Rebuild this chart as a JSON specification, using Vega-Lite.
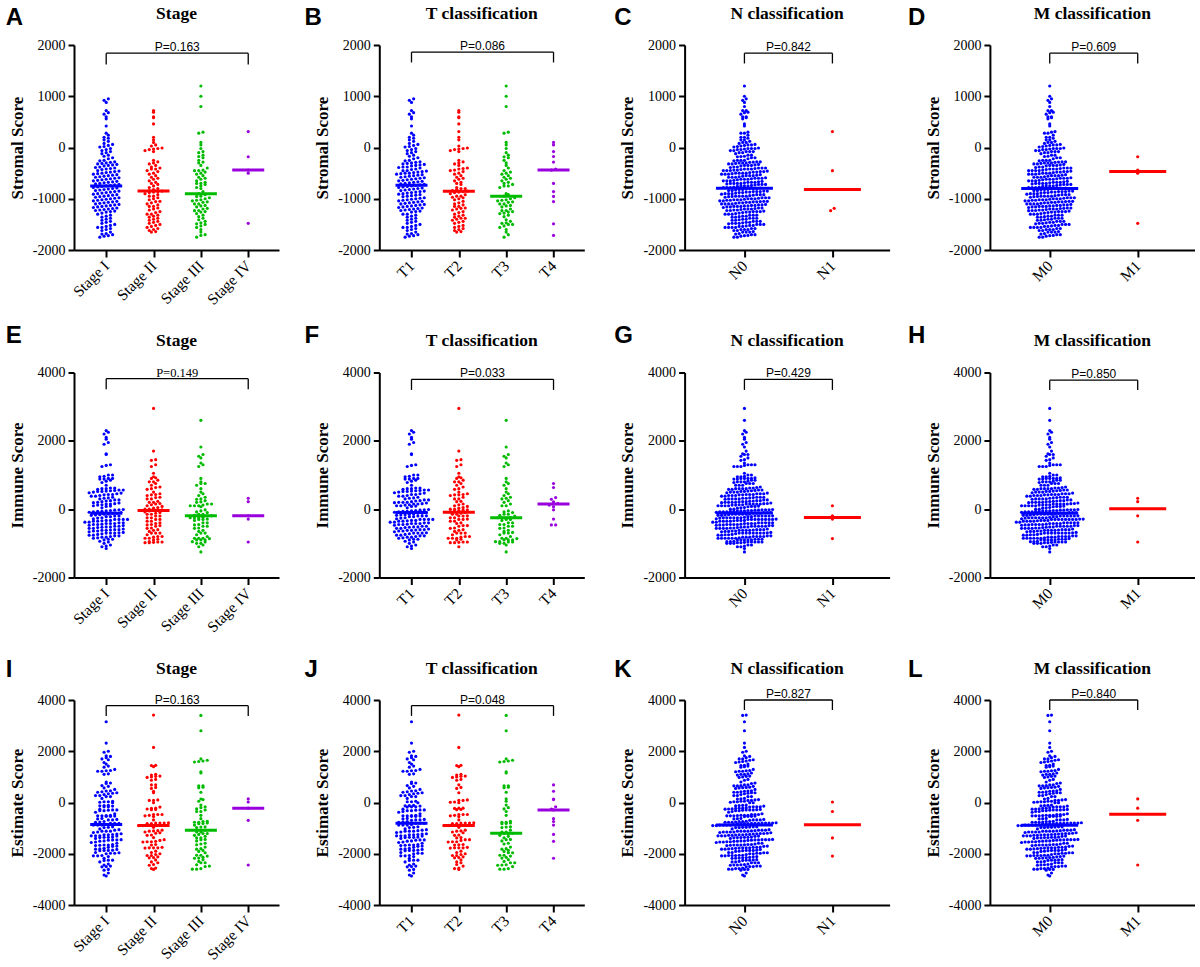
{
"$schema":"https://vega.github.io/schema/vega-lite/v6.json",
"background":"white",
"padding":{"left":5,"top":5,"right":0,"bottom":0},
"config":{
 "view":{"stroke":null},
 "axis":{"grid":false,"domainColor":"black","domainWidth":2,"tickColor":"black","tickWidth":2,"labelFont":"Liberation Serif","labelFontSize":14,"labelColor":"black","titleFont":"Liberation Serif","titleFontSize":17,"titleFontWeight":"bold","titleColor":"black","labelFlush":false,"labelOverlap":false,"labelBound":false},
 "axisX":{"labelAngle":-45,"labelAlign":"right","labelBaseline":"middle","tickSize":7,"labelPadding":6,"labelFont":"Liberation Serif","labelFontSize":15.5,"title":null},
 "axisY":{"tickSize":6,"labelPadding":3,"titlePadding":6,"labelFont":"Liberation Serif","labelFontSize":14,"labelExpr":"'' + datum.value"}
},
"data":{"values":[
{"st":1,"t":1,"n":0,"m":0,"s":950,"i":2200,"e":3150},
{"st":1,"t":1,"n":0,"m":0,"s":920,"i":900,"e":1820},
{"st":1,"t":1,"n":0,"m":0,"s":880,"i":820,"e":1700},
{"st":1,"t":1,"n":0,"m":0,"s":720,"i":950,"e":1670},
{"st":1,"t":1,"n":0,"m":0,"s":680,"i":880,"e":1560},
{"st":1,"t":1,"n":0,"m":0,"s":650,"i":600,"e":1250},
{"st":1,"t":1,"n":0,"m":0,"s":600,"i":780,"e":1380},
{"st":1,"t":1,"n":0,"m":0,"s":560,"i":540,"e":1100},
{"st":1,"t":1,"n":0,"m":0,"s":420,"i":700,"e":1120},
{"st":1,"t":1,"n":0,"m":0,"s":280,"i":520,"e":800},
{"st":1,"t":1,"n":0,"m":0,"s":240,"i":1000,"e":1240},
{"st":1,"t":1,"n":0,"m":0,"s":200,"i":430,"e":630},
{"st":1,"t":1,"n":0,"m":0,"s":180,"i":560,"e":740},
{"st":1,"t":1,"n":0,"m":0,"s":150,"i":250,"e":400},
{"st":1,"t":1,"n":0,"m":0,"s":120,"i":1300,"e":1420},
{"st":1,"t":1,"n":0,"m":0,"s":80,"i":380,"e":460},
{"st":1,"t":1,"n":0,"m":0,"s":60,"i":300,"e":360},
{"st":1,"t":1,"n":0,"m":0,"s":40,"i":620,"e":660},
{"st":1,"t":1,"n":0,"m":0,"s":20,"i":2300,"e":2320},
{"st":1,"t":1,"n":0,"m":0,"s":10,"i":150,"e":160},
{"st":1,"t":1,"n":0,"m":0,"s":-20,"i":470,"e":450},
{"st":1,"t":1,"n":0,"m":0,"s":-40,"i":90,"e":50},
{"st":1,"t":1,"n":0,"m":0,"s":-60,"i":1280,"e":1220},
{"st":1,"t":1,"n":0,"m":0,"s":-80,"i":350,"e":270},
{"st":1,"t":1,"n":0,"m":0,"s":-100,"i":2100,"e":2000},
{"st":1,"t":1,"n":0,"m":0,"s":-120,"i":-50,"e":-170},
{"st":1,"t":1,"n":0,"m":0,"s":-150,"i":530,"e":380},
{"st":1,"t":1,"n":0,"m":0,"s":-170,"i":160,"e":-10},
{"st":1,"t":1,"n":0,"m":0,"s":-200,"i":1950,"e":1750},
{"st":1,"t":1,"n":0,"m":0,"s":-220,"i":450,"e":230},
{"st":1,"t":1,"n":0,"m":0,"s":-250,"i":2050,"e":1800},
{"st":1,"t":1,"n":0,"m":0,"s":-260,"i":-120,"e":-380},
{"st":1,"t":1,"n":0,"m":0,"s":-280,"i":620,"e":340},
{"st":1,"t":1,"n":0,"m":0,"s":-290,"i":2250,"e":1960},
{"st":1,"t":1,"n":0,"m":0,"s":-300,"i":40,"e":-260},
{"st":1,"t":1,"n":0,"m":0,"s":-310,"i":880,"e":570},
{"st":1,"t":1,"n":0,"m":0,"s":-320,"i":-300,"e":-620},
{"st":1,"t":1,"n":0,"m":0,"s":-330,"i":1620,"e":1290},
{"st":1,"t":1,"n":0,"m":0,"s":-340,"i":220,"e":-120},
{"st":1,"t":1,"n":0,"m":0,"s":-350,"i":580,"e":230},
{"st":1,"t":1,"n":0,"m":0,"s":-360,"i":-180,"e":-540},
{"st":1,"t":1,"n":0,"m":0,"s":-380,"i":1600,"e":1220},
{"st":1,"t":1,"n":0,"m":0,"s":-390,"i":100,"e":-290},
{"st":1,"t":1,"n":0,"m":0,"s":-400,"i":1900,"e":1500},
{"st":1,"t":2,"n":0,"m":0,"s":-410,"i":420,"e":10},
{"st":1,"t":1,"n":0,"m":0,"s":-420,"i":-260,"e":-680},
{"st":1,"t":1,"n":0,"m":0,"s":-430,"i":320,"e":-110},
{"st":1,"t":1,"n":0,"m":0,"s":-450,"i":960,"e":510},
{"st":1,"t":1,"n":0,"m":0,"s":-460,"i":-80,"e":-540},
{"st":1,"t":1,"n":0,"m":0,"s":-470,"i":500,"e":30},
{"st":1,"t":1,"n":0,"m":0,"s":-480,"i":-400,"e":-880},
{"st":1,"t":1,"n":0,"m":0,"s":-490,"i":1250,"e":760},
{"st":1,"t":1,"n":0,"m":0,"s":-500,"i":180,"e":-320},
{"st":1,"t":1,"n":0,"m":0,"s":-510,"i":-20,"e":-530},
{"st":1,"t":1,"n":0,"m":0,"s":-520,"i":550,"e":30},
{"st":1,"t":1,"n":0,"m":0,"s":-530,"i":-350,"e":-880},
{"st":1,"t":1,"n":0,"m":0,"s":-540,"i":850,"e":310},
{"st":1,"t":1,"n":0,"m":0,"s":-550,"i":-420,"e":-970},
{"st":1,"t":1,"n":0,"m":0,"s":-560,"i":-500,"e":-1060},
{"st":1,"t":1,"n":0,"m":0,"s":-570,"i":270,"e":-300},
{"st":1,"t":1,"n":0,"m":0,"s":-580,"i":1000,"e":420},
{"st":1,"t":1,"n":0,"m":0,"s":-590,"i":-150,"e":-740},
{"st":1,"t":1,"n":0,"m":0,"s":-600,"i":430,"e":-170},
{"st":1,"t":1,"n":0,"m":0,"s":-610,"i":-620,"e":-1230},
{"st":1,"t":1,"n":0,"m":0,"s":-620,"i":120,"e":-500},
{"st":1,"t":1,"n":0,"m":0,"s":-630,"i":900,"e":270},
{"st":1,"t":1,"n":0,"m":0,"s":-640,"i":-220,"e":-860},
{"st":1,"t":1,"n":0,"m":0,"s":-650,"i":-610,"e":-1260},
{"st":1,"t":1,"n":0,"m":0,"s":-660,"i":-700,"e":-1360},
{"st":1,"t":1,"n":0,"m":0,"s":-670,"i":380,"e":-290},
{"st":1,"t":1,"n":0,"m":0,"s":-680,"i":-90,"e":-770},
{"st":1,"t":1,"n":0,"m":0,"s":-690,"i":560,"e":-130},
{"st":1,"t":1,"n":0,"m":0,"s":-700,"i":-330,"e":-1030},
{"st":1,"t":1,"n":0,"m":0,"s":-710,"i":200,"e":-510},
{"st":1,"t":1,"n":0,"m":0,"s":-720,"i":-450,"e":-1170},
{"st":1,"t":1,"n":0,"m":0,"s":-730,"i":-30,"e":-760},
{"st":1,"t":1,"n":0,"m":0,"s":-740,"i":600,"e":-140},
{"st":1,"t":1,"n":0,"m":0,"s":-750,"i":-60,"e":-810},
{"st":1,"t":1,"n":0,"m":0,"s":-760,"i":240,"e":-520},
{"st":1,"t":1,"n":0,"m":0,"s":-770,"i":-380,"e":-1150},
{"st":1,"t":1,"n":0,"m":0,"s":-780,"i":-470,"e":-1250},
{"st":1,"t":1,"n":0,"m":0,"s":-790,"i":-560,"e":-1350},
{"st":1,"t":1,"n":0,"m":0,"s":-800,"i":480,"e":-320},
{"st":1,"t":1,"n":0,"m":0,"s":-810,"i":-140,"e":-950},
{"st":1,"t":1,"n":0,"m":0,"s":-820,"i":-720,"e":-1540},
{"st":1,"t":1,"n":0,"m":0,"s":-830,"i":150,"e":-680},
{"st":1,"t":1,"n":0,"m":0,"s":-840,"i":-280,"e":-1120},
{"st":1,"t":1,"n":0,"m":0,"s":-850,"i":330,"e":-520},
{"st":1,"t":1,"n":0,"m":0,"s":-860,"i":-600,"e":-1460},
{"st":1,"t":1,"n":0,"m":0,"s":-870,"i":-10,"e":-880},
{"st":1,"t":1,"n":0,"m":0,"s":-880,"i":-420,"e":-1300},
{"st":1,"t":1,"n":0,"m":0,"s":-890,"i":80,"e":-810},
{"st":1,"t":1,"n":0,"m":0,"s":-900,"i":-800,"e":-1700},
{"st":1,"t":1,"n":0,"m":0,"s":-910,"i":270,"e":-640},
{"st":1,"t":1,"n":0,"m":0,"s":-920,"i":-200,"e":-1120},
{"st":1,"t":1,"n":0,"m":0,"s":-930,"i":-660,"e":-1590},
{"st":1,"t":1,"n":0,"m":0,"s":-940,"i":-530,"e":-1470},
{"st":1,"t":1,"n":0,"m":0,"s":-950,"i":-350,"e":-1300},
{"st":1,"t":1,"n":0,"m":0,"s":-960,"i":520,"e":-440},
{"st":1,"t":2,"n":0,"m":0,"s":-970,"i":-480,"e":-1450},
{"st":1,"t":1,"n":0,"m":0,"s":-980,"i":-100,"e":-1080},
{"st":1,"t":1,"n":0,"m":0,"s":-990,"i":-760,"e":-1750},
{"st":1,"t":1,"n":0,"m":0,"s":-1000,"i":190,"e":-810},
{"st":1,"t":1,"n":0,"m":0,"s":-1010,"i":-300,"e":-1310},
{"st":1,"t":1,"n":0,"m":0,"s":-1020,"i":-540,"e":-1560},
{"st":1,"t":1,"n":0,"m":0,"s":-1030,"i":-330,"e":-1360},
{"st":1,"t":1,"n":0,"m":0,"s":-1040,"i":-840,"e":-1880},
{"st":1,"t":1,"n":0,"m":0,"s":-1050,"i":-170,"e":-1220},
{"st":1,"t":1,"n":0,"m":0,"s":-1060,"i":400,"e":-660},
{"st":1,"t":1,"n":0,"m":0,"s":-1070,"i":-640,"e":-1710},
{"st":1,"t":1,"n":0,"m":0,"s":-1080,"i":-40,"e":-1120},
{"st":1,"t":1,"n":0,"m":0,"s":-1090,"i":-420,"e":-1510},
{"st":1,"t":1,"n":0,"m":0,"s":-1100,"i":-880,"e":-1980},
{"st":1,"t":1,"n":0,"m":0,"s":-1110,"i":130,"e":-980},
{"st":1,"t":1,"n":0,"m":0,"s":-1120,"i":-250,"e":-1370},
{"st":1,"t":1,"n":0,"m":0,"s":-1130,"i":-700,"e":-1830},
{"st":1,"t":1,"n":0,"m":0,"s":-1140,"i":-120,"e":-1260},
{"st":1,"t":1,"n":0,"m":0,"s":-1150,"i":-520,"e":-1670},
{"st":1,"t":1,"n":0,"m":0,"s":-1160,"i":-340,"e":-1500},
{"st":1,"t":1,"n":0,"m":0,"s":-1170,"i":-780,"e":-1950},
{"st":1,"t":1,"n":0,"m":0,"s":-1180,"i":-690,"e":-1870},
{"st":1,"t":1,"n":0,"m":0,"s":-1190,"i":-600,"e":-1790},
{"st":1,"t":1,"n":0,"m":0,"s":-1200,"i":-200,"e":-1400},
{"st":1,"t":1,"n":0,"m":0,"s":-1210,"i":-900,"e":-2110},
{"st":1,"t":1,"n":0,"m":0,"s":-1220,"i":-440,"e":-1660},
{"st":1,"t":1,"n":0,"m":0,"s":-1230,"i":-580,"e":-1810},
{"st":1,"t":1,"n":0,"m":0,"s":-1240,"i":-60,"e":-1300},
{"st":1,"t":1,"n":0,"m":0,"s":-1250,"i":-820,"e":-2070},
{"st":1,"t":1,"n":0,"m":0,"s":-1260,"i":-380,"e":-1640},
{"st":1,"t":3,"n":0,"m":0,"s":-1280,"i":-680,"e":-1960},
{"st":1,"t":1,"n":0,"m":0,"s":-1300,"i":-160,"e":-1460},
{"st":1,"t":1,"n":0,"m":0,"s":-1320,"i":-500,"e":-1820},
{"st":1,"t":1,"n":0,"m":0,"s":-1340,"i":-740,"e":-2080},
{"st":1,"t":1,"n":0,"m":0,"s":-1360,"i":-300,"e":-1660},
{"st":1,"t":1,"n":0,"m":0,"s":-1380,"i":-620,"e":-2000},
{"st":1,"t":1,"n":0,"m":0,"s":-1400,"i":-850,"e":-2250},
{"st":1,"t":1,"n":0,"m":0,"s":-1420,"i":-450,"e":-1870},
{"st":1,"t":1,"n":0,"m":0,"s":-1440,"i":-960,"e":-2400},
{"st":1,"t":1,"n":0,"m":0,"s":-1460,"i":-220,"e":-1680},
{"st":1,"t":1,"n":0,"m":0,"s":-1480,"i":-700,"e":-2180},
{"st":1,"t":1,"n":0,"m":0,"s":-1500,"i":-1000,"e":-2500},
{"st":1,"t":1,"n":0,"m":0,"s":-1520,"i":-560,"e":-2080},
{"st":1,"t":1,"n":0,"m":0,"s":-1540,"i":-780,"e":-2320},
{"st":1,"t":1,"n":0,"m":0,"s":-1560,"i":-1050,"e":-2610},
{"st":1,"t":1,"n":0,"m":0,"s":-1580,"i":-400,"e":-1980},
{"st":1,"t":1,"n":0,"m":0,"s":-1600,"i":-880,"e":-2480},
{"st":1,"t":1,"n":0,"m":0,"s":-1620,"i":-640,"e":-2260},
{"st":1,"t":1,"n":0,"m":0,"s":-1650,"i":-1100,"e":-2750},
{"st":1,"t":1,"n":0,"m":0,"s":-1680,"i":-760,"e":-2440},
{"st":1,"t":1,"n":0,"m":0,"s":-1700,"i":-940,"e":-2640},
{"st":1,"t":1,"n":0,"m":0,"s":-1720,"i":-1150,"e":-2870},
{"st":1,"t":1,"n":0,"m":0,"s":-1750,"i":-1080,"e":-2830},
{"st":1,"t":1,"n":0,"m":0,"s":-1730,"i":-520,"e":-2250},
{"st":1,"t":1,"n":0,"m":0,"s":-1690,"i":-820,"e":-2510},
{"st":1,"t":1,"n":0,"m":0,"s":-1560,"i":-300,"e":-1860},
{"st":2,"t":2,"n":0,"m":0,"s":720,"i":1430,"e":2150},
{"st":2,"t":2,"n":0,"m":0,"s":690,"i":750,"e":1440},
{"st":2,"t":2,"n":0,"m":0,"s":600,"i":800,"e":1400},
{"st":2,"t":2,"n":0,"m":0,"s":460,"i":2950,"e":3410},
{"st":2,"t":2,"n":0,"m":0,"s":580,"i":420,"e":1000},
{"st":2,"t":2,"n":0,"m":0,"s":200,"i":900,"e":1100},
{"st":2,"t":2,"n":0,"m":0,"s":150,"i":920,"e":1070},
{"st":2,"t":2,"n":0,"m":0,"s":30,"i":950,"e":980},
{"st":2,"t":2,"n":0,"m":0,"s":-10,"i":700,"e":690},
{"st":2,"t":2,"n":0,"m":0,"s":-20,"i":1050,"e":1030},
{"st":2,"t":2,"n":0,"m":0,"s":-30,"i":580,"e":550},
{"st":2,"t":2,"n":0,"m":0,"s":-40,"i":30,"e":-10},
{"st":2,"t":2,"n":0,"m":0,"s":-60,"i":650,"e":590},
{"st":2,"t":2,"n":0,"m":0,"s":-80,"i":-200,"e":-280},
{"st":2,"t":2,"n":0,"m":0,"s":-250,"i":1700,"e":1450},
{"st":2,"t":2,"n":0,"m":0,"s":-280,"i":1300,"e":1020},
{"st":2,"t":2,"n":0,"m":0,"s":-300,"i":400,"e":100},
{"st":2,"t":2,"n":0,"m":0,"s":-320,"i":-150,"e":-470},
{"st":2,"t":2,"n":0,"m":0,"s":-350,"i":1250,"e":900},
{"st":2,"t":1,"n":0,"m":0,"s":-380,"i":200,"e":-180},
{"st":2,"t":2,"n":0,"m":0,"s":-400,"i":-400,"e":-800},
{"st":2,"t":2,"n":0,"m":0,"s":-420,"i":500,"e":80},
{"st":2,"t":2,"n":0,"m":0,"s":-450,"i":-50,"e":-500},
{"st":2,"t":2,"n":0,"m":0,"s":-470,"i":850,"e":380},
{"st":2,"t":2,"n":0,"m":0,"s":-500,"i":-620,"e":-1120},
{"st":2,"t":2,"n":0,"m":0,"s":-520,"i":300,"e":-220},
{"st":2,"t":2,"n":0,"m":0,"s":-550,"i":0,"e":-550},
{"st":2,"t":2,"n":0,"m":0,"s":-580,"i":1450,"e":870},
{"st":2,"t":2,"n":0,"m":0,"s":-600,"i":-300,"e":-900},
{"st":2,"t":2,"n":0,"m":0,"s":-620,"i":150,"e":-470},
{"st":2,"t":2,"n":0,"m":0,"s":-650,"i":-800,"e":-1450},
{"st":2,"t":2,"n":0,"m":0,"s":-680,"i":450,"e":-230},
{"st":2,"t":2,"n":0,"m":0,"s":-700,"i":-100,"e":-800},
{"st":2,"t":2,"n":0,"m":0,"s":-720,"i":800,"e":80},
{"st":2,"t":3,"n":0,"m":0,"s":-750,"i":-450,"e":-1200},
{"st":2,"t":2,"n":0,"m":0,"s":-780,"i":100,"e":-680},
{"st":2,"t":2,"n":0,"m":0,"s":-800,"i":-20,"e":-820},
{"st":2,"t":2,"n":0,"m":0,"s":-820,"i":350,"e":-470},
{"st":2,"t":2,"n":0,"m":0,"s":-840,"i":-700,"e":-1540},
{"st":2,"t":2,"n":0,"m":0,"s":-850,"i":50,"e":-800},
{"st":2,"t":2,"n":0,"m":0,"s":-860,"i":-250,"e":-1110},
{"st":2,"t":2,"n":0,"m":0,"s":-870,"i":600,"e":-270},
{"st":2,"t":2,"n":0,"m":0,"s":-880,"i":-900,"e":-1780},
{"st":2,"t":2,"n":0,"m":0,"s":-900,"i":80,"e":-820},
{"st":2,"t":2,"n":0,"m":0,"s":-920,"i":-350,"e":-1270},
{"st":2,"t":2,"n":0,"m":0,"s":-950,"i":430,"e":-520},
{"st":2,"t":2,"n":0,"m":0,"s":-980,"i":-550,"e":-1530},
{"st":2,"t":2,"n":0,"m":0,"s":-1000,"i":-80,"e":-1080},
{"st":2,"t":2,"n":0,"m":0,"s":-1020,"i":230,"e":-790},
{"st":2,"t":2,"n":0,"m":0,"s":-1050,"i":-980,"e":-2030},
{"st":2,"t":2,"n":0,"m":0,"s":-1080,"i":-200,"e":-1280},
{"st":2,"t":2,"n":0,"m":0,"s":-1100,"i":130,"e":-970},
{"st":2,"t":2,"n":0,"m":0,"s":-1120,"i":-650,"e":-1770},
{"st":2,"t":2,"n":0,"m":0,"s":-1150,"i":-30,"e":-1180},
{"st":2,"t":2,"n":0,"m":0,"s":-1180,"i":-480,"e":-1660},
{"st":2,"t":2,"n":0,"m":0,"s":-1200,"i":300,"e":-900},
{"st":2,"t":2,"n":0,"m":0,"s":-1220,"i":-850,"e":-2070},
{"st":2,"t":2,"n":0,"m":0,"s":-1250,"i":-120,"e":-1370},
{"st":2,"t":2,"n":0,"m":0,"s":-1270,"i":-500,"e":-1770},
{"st":2,"t":1,"n":0,"m":0,"s":-1300,"i":200,"e":-1100},
{"st":2,"t":2,"n":0,"m":0,"s":-1320,"i":-750,"e":-2070},
{"st":2,"t":2,"n":0,"m":0,"s":-1340,"i":-300,"e":-1640},
{"st":2,"t":2,"n":0,"m":0,"s":-1360,"i":-960,"e":-2320},
{"st":2,"t":2,"n":0,"m":0,"s":-1380,"i":-150,"e":-1530},
{"st":2,"t":2,"n":0,"m":0,"s":-1400,"i":-600,"e":-2000},
{"st":2,"t":2,"n":0,"m":0,"s":-1420,"i":-820,"e":-2240},
{"st":2,"t":2,"n":0,"m":0,"s":-1440,"i":-40,"e":-1480},
{"st":2,"t":2,"n":0,"m":0,"s":-1460,"i":-700,"e":-2160},
{"st":2,"t":2,"n":0,"m":0,"s":-1480,"i":-420,"e":-1900},
{"st":2,"t":3,"n":0,"m":0,"s":-1500,"i":-950,"e":-2450},
{"st":2,"t":2,"n":0,"m":0,"s":-1520,"i":-250,"e":-1770},
{"st":2,"t":2,"n":0,"m":0,"s":-1540,"i":-880,"e":-2420},
{"st":2,"t":2,"n":0,"m":0,"s":-1560,"i":-560,"e":-2120},
{"st":2,"t":2,"n":0,"m":0,"s":-1580,"i":-980,"e":-2560},
{"st":2,"t":2,"n":0,"m":0,"s":-1600,"i":-350,"e":-1950},
{"st":2,"t":2,"n":0,"m":0,"s":-1620,"i":-960,"e":-2580},
{"st":2,"t":2,"n":0,"m":0,"s":-1650,"i":-700,"e":-2350},
{"st":2,"t":2,"n":0,"m":0,"s":-1640,"i":-970,"e":-2610},
{"st":2,"t":2,"n":0,"m":0,"s":-1300,"i":-850,"e":-2150},
{"st":2,"t":2,"n":0,"m":0,"s":-1150,"i":0,"e":-1150},
{"st":2,"t":2,"n":0,"m":0,"s":-950,"i":-800,"e":-1750},
{"st":2,"t":4,"n":0,"m":0,"s":100,"i":340,"e":440},
{"st":2,"t":4,"n":0,"m":0,"s":50,"i":635,"e":685},
{"st":2,"t":4,"n":0,"m":0,"s":-420,"i":165,"e":-255},
{"st":2,"t":4,"n":0,"m":0,"s":-1055,"i":-460,"e":-1515},
{"st":3,"t":3,"n":0,"m":0,"s":800,"i":2600,"e":3400},
{"st":3,"t":3,"n":0,"m":0,"s":1200,"i":1600,"e":2800},
{"st":3,"t":3,"n":0,"m":0,"s":1000,"i":700,"e":1700},
{"st":3,"t":3,"n":0,"m":0,"s":300,"i":1350,"e":1650},
{"st":3,"t":3,"n":0,"m":0,"s":280,"i":1300,"e":1580},
{"st":3,"t":3,"n":0,"m":0,"s":50,"i":1550,"e":1600},
{"st":3,"t":3,"n":0,"m":0,"s":-200,"i":1820,"e":1620},
{"st":3,"t":3,"n":0,"m":0,"s":-300,"i":1500,"e":1200},
{"st":3,"t":3,"n":0,"m":0,"s":-100,"i":1250,"e":1150},
{"st":3,"t":3,"n":0,"m":0,"s":100,"i":500,"e":600},
{"st":3,"t":3,"n":0,"m":0,"s":-20,"i":600,"e":580},
{"st":3,"t":3,"n":0,"m":0,"s":-150,"i":800,"e":650},
{"st":3,"t":3,"n":0,"m":0,"s":-250,"i":900,"e":650},
{"st":3,"t":3,"n":0,"m":0,"s":-350,"i":750,"e":400},
{"st":3,"t":3,"n":0,"m":0,"s":-400,"i":450,"e":50},
{"st":3,"t":3,"n":0,"m":0,"s":-450,"i":350,"e":-100},
{"st":3,"t":3,"n":0,"m":0,"s":-480,"i":-250,"e":-730},
{"st":3,"t":3,"n":0,"m":0,"s":-500,"i":300,"e":-200},
{"st":3,"t":3,"n":0,"m":0,"s":-520,"i":-300,"e":-820},
{"st":3,"t":3,"n":0,"m":0,"s":-550,"i":200,"e":-350},
{"st":3,"t":3,"n":0,"m":0,"s":-580,"i":-500,"e":-1080},
{"st":3,"t":3,"n":0,"m":0,"s":-600,"i":100,"e":-500},
{"st":3,"t":3,"n":0,"m":0,"s":-620,"i":-150,"e":-770},
{"st":3,"t":3,"n":0,"m":0,"s":-650,"i":400,"e":-250},
{"st":3,"t":3,"n":0,"m":0,"s":-680,"i":-700,"e":-1380},
{"st":3,"t":3,"n":0,"m":0,"s":-700,"i":-100,"e":-800},
{"st":3,"t":3,"n":0,"m":0,"s":-720,"i":-240,"e":-960},
{"st":3,"t":3,"n":0,"m":0,"s":-750,"i":-400,"e":-1150},
{"st":3,"t":3,"n":0,"m":0,"s":-780,"i":-200,"e":-980},
{"st":3,"t":2,"n":0,"m":0,"s":-800,"i":-850,"e":-1650},
{"st":3,"t":3,"n":0,"m":0,"s":-1020,"i":250,"e":-770},
{"st":3,"t":3,"n":0,"m":0,"s":-1040,"i":-550,"e":-1590},
{"st":3,"t":3,"n":0,"m":0,"s":-1070,"i":-250,"e":-1320},
{"st":3,"t":3,"n":0,"m":0,"s":-900,"i":-50,"e":-950},
{"st":3,"t":3,"n":0,"m":0,"s":-920,"i":-950,"e":-1870},
{"st":3,"t":3,"n":0,"m":0,"s":-950,"i":-330,"e":-1280},
{"st":3,"t":3,"n":0,"m":0,"s":-980,"i":150,"e":-830},
{"st":3,"t":3,"n":0,"m":0,"s":-1000,"i":-620,"e":-1620},
{"st":3,"t":3,"n":0,"m":0,"s":-1030,"i":-180,"e":-1210},
{"st":3,"t":3,"n":0,"m":0,"s":-1060,"i":-900,"e":-1960},
{"st":3,"t":3,"n":0,"m":0,"s":-1100,"i":-400,"e":-1500},
{"st":3,"t":3,"n":0,"m":0,"s":-1130,"i":-80,"e":-1210},
{"st":3,"t":3,"n":0,"m":0,"s":-1160,"i":-750,"e":-1910},
{"st":3,"t":3,"n":0,"m":0,"s":-1200,"i":-250,"e":-1450},
{"st":3,"t":3,"n":0,"m":0,"s":-1230,"i":-1000,"e":-2230},
{"st":3,"t":3,"n":0,"m":0,"s":-1260,"i":-560,"e":-1820},
{"st":3,"t":3,"n":0,"m":0,"s":-1290,"i":-150,"e":-1440},
{"st":3,"t":3,"n":0,"m":0,"s":-1320,"i":-850,"e":-2170},
{"st":3,"t":3,"n":0,"m":0,"s":-1350,"i":-450,"e":-1800},
{"st":3,"t":2,"n":0,"m":0,"s":-1380,"i":-1100,"e":-2480},
{"st":3,"t":3,"n":0,"m":0,"s":-1410,"i":-650,"e":-2060},
{"st":3,"t":3,"n":0,"m":0,"s":-1440,"i":-300,"e":-1740},
{"st":3,"t":3,"n":0,"m":0,"s":-1470,"i":-960,"e":-2430},
{"st":3,"t":3,"n":0,"m":0,"s":-1500,"i":-800,"e":-2300},
{"st":3,"t":3,"n":0,"m":0,"s":-1530,"i":-1050,"e":-2580},
{"st":3,"t":3,"n":0,"m":0,"s":-1560,"i":-500,"e":-2060},
{"st":3,"t":3,"n":0,"m":0,"s":-1600,"i":-900,"e":-2500},
{"st":3,"t":3,"n":0,"m":0,"s":-1650,"i":-700,"e":-2350},
{"st":3,"t":3,"n":0,"m":0,"s":-1700,"i":-900,"e":-2600},
{"st":3,"t":3,"n":0,"m":0,"s":-1750,"i":-850,"e":-2600},
{"st":3,"t":3,"n":0,"m":0,"s":-1100,"i":-1250,"e":-2350},
{"st":3,"t":3,"n":0,"m":0,"s":-1140,"i":-1000,"e":-2140},
{"st":3,"t":3,"n":0,"m":0,"s":-1250,"i":100,"e":-1150},
{"st":3,"t":1,"n":1,"m":0,"s":-452,"i":100,"e":-352},
{"st":3,"t":2,"n":1,"m":0,"s":-1187,"i":-195,"e":-1382},
{"st":3,"t":3,"n":1,"m":0,"s":-1232,"i":-860,"e":-2092},
{"st":3,"t":4,"n":0,"m":0,"s":-80,"i":215,"e":135},
{"st":3,"t":4,"n":0,"m":0,"s":-175,"i":290,"e":115},
{"st":3,"t":4,"n":0,"m":0,"s":-285,"i":120,"e":-165},
{"st":3,"t":4,"n":0,"m":0,"s":-440,"i":150,"e":-290},
{"st":3,"t":4,"n":0,"m":0,"s":-700,"i":70,"e":-630},
{"st":3,"t":4,"n":0,"m":0,"s":-860,"i":-20,"e":-880},
{"st":3,"t":4,"n":0,"m":0,"s":-955,"i":-290,"e":-1245},
{"st":3,"t":4,"n":0,"m":0,"s":-1715,"i":-460,"e":-2175},
{"st":3,"t":4,"n":0,"m":0,"s":-1490,"i":750,"e":-740},
{"st":4,"t":3,"n":0,"m":1,"s":-180,"i":320,"e":140},
{"st":4,"t":2,"n":0,"m":1,"s":-440,"i":220,"e":-220},
{"st":4,"t":1,"n":0,"m":1,"s":-500,"i":-195,"e":-695},
{"st":4,"t":3,"n":0,"m":1,"s":-1480,"i":-960,"e":-2440},
{"st":4,"t":2,"n":1,"m":0,"s":310,"i":-290,"e":20}
]},
"transform":[
 {"fold":["s","i","e"],"as":["score","val"]},
 {"fold":["st","t","n","m"],"as":["grp","gv"]},
 {"calculate":"datum.grp == 'n' || datum.grp == 'm' ? datum.gv + 1 : datum.gv","as":"gx"},
 {"calculate":"datum.score == 's' ? 65 : (datum.score == 'i' ? 95 : 130)","as":"bw"},
 {"calculate":"floor(datum.val / datum.bw)","as":"bin"},
 {"window":[{"op":"row_number","as":"rk"}],"groupby":["score","grp","gx","bin"],"sort":[{"field":"val"}]},
 {"joinaggregate":[{"op":"count","as":"cnt"}],"groupby":["score","grp","gx","bin"]},
 {"calculate":"datum.gx + (datum.rk - 1 - (datum.cnt - 1) / 2) * ((datum.grp == 'n' || datum.grp == 'm') ? 0.04 : 0.09)","as":"xp"}
],
"columns":4,
"align":"all",
"bounds":"flush",
"spacing":{"row":122.5,"column":100.3},
"concat":[
{"width":205,"height":205,"layer":[
 {"transform":[{"filter":"datum.score=='s' && datum.grp=='st'"}],"mark":{"type":"circle","size":10,"opacity":1},"encoding":{
  "x":{"field":"xp","type":"quantitative","scale":{"domain":[0.32,4.65],"nice":false,"zero":false},"axis":{"values":[1,2,3,4],"labelExpr":"['','Stage I','Stage II','Stage III','Stage IV'][datum.value]"}},
  "y":{"field":"val","type":"quantitative","scale":{"domain":[-2000,2000],"nice":false},"axis":{"values":[-2000,-1000,0,1000,2000],"title":"Stromal Score"}},
  "color":{"field":"gx","type":"nominal","scale":{"domain":[1,2,3,4],"range":["#0000FF","#FF0000","#00BB00","#9900DD"]},"legend":null}}},
 {"transform":[{"filter":"datum.score=='s' && datum.grp=='st'"},{"aggregate":[{"op":"median","field":"val","as":"med"}],"groupby":["gx"]}],"mark":{"type":"tick","orient":"horizontal","thickness":3,"size":32,"opacity":1},"encoding":{"x":{"field":"gx","type":"quantitative"},"y":{"field":"med","type":"quantitative"},"color":{"field":"gx","type":"nominal","legend":null}}},
 {"data":{"values":[{}]},"mark":{"type":"rule","color":"black","strokeWidth":1.3},"encoding":{"x":{"datum":1},"x2":{"datum":4},"y":{"datum":1840}}},
 {"data":{"values":[{}]},"mark":{"type":"rule","color":"black","strokeWidth":1.3},"encoding":{"x":{"datum":1},"y":{"datum":1840},"y2":{"datum":1620}}},
 {"data":{"values":[{}]},"mark":{"type":"rule","color":"black","strokeWidth":1.3},"encoding":{"x":{"datum":4},"y":{"datum":1840},"y2":{"datum":1620}}},
 {"data":{"values":[{}]},"mark":{"type":"text","text":"P=0.163","font":"Liberation Sans","fontSize":12,"baseline":"alphabetic","dy":-2},"encoding":{"x":{"datum":2.5},"y":{"datum":1840}}},
 {"data":{"values":[{}]},"mark":{"type":"text","text":"Stage","font":"Liberation Serif","fontWeight":"bold","fontSize":17.5,"baseline":"alphabetic"},"encoding":{"x":{"datum":2.485},"y":{"datum":2507}}},
 {"data":{"values":[{}]},"mark":{"type":"text","text":"A","font":"Liberation Sans","fontWeight":"bold","fontSize":24,"align":"left","baseline":"alphabetic"},"encoding":{"x":{"datum":-1.12},"y":{"datum":2390}}}
]},
{"width":205,"height":205,"layer":[
 {"transform":[{"filter":"datum.score=='s' && datum.grp=='t'"}],"mark":{"type":"circle","size":10,"opacity":1},"encoding":{
  "x":{"field":"xp","type":"quantitative","scale":{"domain":[0.32,4.65],"nice":false,"zero":false},"axis":{"values":[1,2,3,4],"labelExpr":"'T' + datum.value"}},
  "y":{"field":"val","type":"quantitative","scale":{"domain":[-2000,2000],"nice":false},"axis":{"values":[-2000,-1000,0,1000,2000],"title":"Stromal Score"}},
  "color":{"field":"gx","type":"nominal","scale":{"domain":[1,2,3,4],"range":["#0000FF","#FF0000","#00BB00","#9900DD"]},"legend":null}}},
 {"transform":[{"filter":"datum.score=='s' && datum.grp=='t'"},{"aggregate":[{"op":"median","field":"val","as":"med"}],"groupby":["gx"]}],"mark":{"type":"tick","orient":"horizontal","thickness":3,"size":32,"opacity":1},"encoding":{"x":{"field":"gx","type":"quantitative"},"y":{"field":"med","type":"quantitative"},"color":{"field":"gx","type":"nominal","legend":null}}},
 {"data":{"values":[{}]},"mark":{"type":"rule","color":"black","strokeWidth":1.3},"encoding":{"x":{"datum":1},"x2":{"datum":4},"y":{"datum":1860}}},
 {"data":{"values":[{}]},"mark":{"type":"rule","color":"black","strokeWidth":1.3},"encoding":{"x":{"datum":1},"y":{"datum":1860},"y2":{"datum":1660}}},
 {"data":{"values":[{}]},"mark":{"type":"rule","color":"black","strokeWidth":1.3},"encoding":{"x":{"datum":4},"y":{"datum":1860},"y2":{"datum":1660}}},
 {"data":{"values":[{}]},"mark":{"type":"text","text":"P=0.086","font":"Liberation Sans","fontSize":12,"baseline":"alphabetic","dy":-2},"encoding":{"x":{"datum":2.5},"y":{"datum":1860}}},
 {"data":{"values":[{}]},"mark":{"type":"text","text":"T classification","font":"Liberation Serif","fontWeight":"bold","fontSize":17.5,"baseline":"alphabetic"},"encoding":{"x":{"datum":2.485},"y":{"datum":2507}}},
 {"data":{"values":[{}]},"mark":{"type":"text","text":"B","font":"Liberation Sans","fontWeight":"bold","fontSize":24,"align":"left","baseline":"alphabetic"},"encoding":{"x":{"datum":-1.26},"y":{"datum":2390}}}
]},
{"width":205,"height":205,"layer":[
 {"transform":[{"filter":"datum.score=='s' && datum.grp=='n'"}],"mark":{"type":"circle","size":10,"opacity":1},"encoding":{
  "x":{"field":"xp","type":"quantitative","scale":{"domain":[0.32,2.65],"nice":false,"zero":false},"axis":{"values":[1,2],"labelExpr":"'N' + (datum.value - 1)"}},
  "y":{"field":"val","type":"quantitative","scale":{"domain":[-2000,2000],"nice":false},"axis":{"values":[-2000,-1000,0,1000,2000],"title":"Stromal Score"}},
  "color":{"field":"gx","type":"nominal","scale":{"domain":[1,2,3,4],"range":["#0000FF","#FF0000","#00BB00","#9900DD"]},"legend":null}}},
 {"transform":[{"filter":"datum.score=='s' && datum.grp=='n'"},{"aggregate":[{"op":"median","field":"val","as":"med"}],"groupby":["gx"]}],"mark":{"type":"tick","orient":"horizontal","thickness":3,"size":57,"opacity":1},"encoding":{"x":{"field":"gx","type":"quantitative"},"y":{"field":"med","type":"quantitative"},"color":{"field":"gx","type":"nominal","legend":null}}},
 {"data":{"values":[{}]},"mark":{"type":"rule","color":"black","strokeWidth":1.3},"encoding":{"x":{"datum":1},"x2":{"datum":2},"y":{"datum":1840}}},
 {"data":{"values":[{}]},"mark":{"type":"rule","color":"black","strokeWidth":1.3},"encoding":{"x":{"datum":1},"y":{"datum":1840},"y2":{"datum":1640}}},
 {"data":{"values":[{}]},"mark":{"type":"rule","color":"black","strokeWidth":1.3},"encoding":{"x":{"datum":2},"y":{"datum":1840},"y2":{"datum":1640}}},
 {"data":{"values":[{}]},"mark":{"type":"text","text":"P=0.842","font":"Liberation Sans","fontSize":12,"baseline":"alphabetic","dy":-2},"encoding":{"x":{"datum":1.5},"y":{"datum":1840}}},
 {"data":{"values":[{}]},"mark":{"type":"text","text":"N classification","font":"Liberation Serif","fontWeight":"bold","fontSize":17.5,"baseline":"alphabetic"},"encoding":{"x":{"datum":1.485},"y":{"datum":2507}}},
 {"data":{"values":[{}]},"mark":{"type":"text","text":"C","font":"Liberation Sans","fontWeight":"bold","fontSize":24,"align":"left","baseline":"alphabetic"},"encoding":{"x":{"datum":-0.48},"y":{"datum":2390}}}
]},
{"width":205,"height":205,"layer":[
 {"transform":[{"filter":"datum.score=='s' && datum.grp=='m'"}],"mark":{"type":"circle","size":10,"opacity":1},"encoding":{
  "x":{"field":"xp","type":"quantitative","scale":{"domain":[0.32,2.65],"nice":false,"zero":false},"axis":{"values":[1,2],"labelExpr":"'M' + (datum.value - 1)"}},
  "y":{"field":"val","type":"quantitative","scale":{"domain":[-2000,2000],"nice":false},"axis":{"values":[-2000,-1000,0,1000,2000],"title":"Stromal Score"}},
  "color":{"field":"gx","type":"nominal","scale":{"domain":[1,2,3,4],"range":["#0000FF","#FF0000","#00BB00","#9900DD"]},"legend":null}}},
 {"transform":[{"filter":"datum.score=='s' && datum.grp=='m'"},{"aggregate":[{"op":"median","field":"val","as":"med"}],"groupby":["gx"]}],"mark":{"type":"tick","orient":"horizontal","thickness":3,"size":57,"opacity":1},"encoding":{"x":{"field":"gx","type":"quantitative"},"y":{"field":"med","type":"quantitative"},"color":{"field":"gx","type":"nominal","legend":null}}},
 {"data":{"values":[{}]},"mark":{"type":"rule","color":"black","strokeWidth":1.3},"encoding":{"x":{"datum":1},"x2":{"datum":2},"y":{"datum":1840}}},
 {"data":{"values":[{}]},"mark":{"type":"rule","color":"black","strokeWidth":1.3},"encoding":{"x":{"datum":1},"y":{"datum":1840},"y2":{"datum":1640}}},
 {"data":{"values":[{}]},"mark":{"type":"rule","color":"black","strokeWidth":1.3},"encoding":{"x":{"datum":2},"y":{"datum":1840},"y2":{"datum":1640}}},
 {"data":{"values":[{}]},"mark":{"type":"text","text":"P=0.609","font":"Liberation Sans","fontSize":12,"baseline":"alphabetic","dy":-2},"encoding":{"x":{"datum":1.5},"y":{"datum":1840}}},
 {"data":{"values":[{}]},"mark":{"type":"text","text":"M classification","font":"Liberation Serif","fontWeight":"bold","fontSize":17.5,"baseline":"alphabetic"},"encoding":{"x":{"datum":1.485},"y":{"datum":2507}}},
 {"data":{"values":[{}]},"mark":{"type":"text","text":"D","font":"Liberation Sans","fontWeight":"bold","fontSize":24,"align":"left","baseline":"alphabetic"},"encoding":{"x":{"datum":-0.61},"y":{"datum":2390}}}
]},
{"width":205,"height":205,"layer":[
 {"transform":[{"filter":"datum.score=='i' && datum.grp=='st'"}],"mark":{"type":"circle","size":10,"opacity":1},"encoding":{
  "x":{"field":"xp","type":"quantitative","scale":{"domain":[0.32,4.65],"nice":false,"zero":false},"axis":{"values":[1,2,3,4],"labelExpr":"['','Stage I','Stage II','Stage III','Stage IV'][datum.value]"}},
  "y":{"field":"val","type":"quantitative","scale":{"domain":[-2000,4000],"nice":false},"axis":{"values":[-2000,-1000,0,1000,2000,3000,4000],"title":"Immune Score"}},
  "color":{"field":"gx","type":"nominal","scale":{"domain":[1,2,3,4],"range":["#0000FF","#FF0000","#00BB00","#9900DD"]},"legend":null}}},
 {"transform":[{"filter":"datum.score=='i' && datum.grp=='st'"},{"aggregate":[{"op":"median","field":"val","as":"med"}],"groupby":["gx"]}],"mark":{"type":"tick","orient":"horizontal","thickness":3,"size":32,"opacity":1},"encoding":{"x":{"field":"gx","type":"quantitative"},"y":{"field":"med","type":"quantitative"},"color":{"field":"gx","type":"nominal","legend":null}}},
 {"data":{"values":[{}]},"mark":{"type":"rule","color":"black","strokeWidth":1.3},"encoding":{"x":{"datum":1},"x2":{"datum":4},"y":{"datum":3820}}},
 {"data":{"values":[{}]},"mark":{"type":"rule","color":"black","strokeWidth":1.3},"encoding":{"x":{"datum":1},"y":{"datum":3820},"y2":{"datum":3510}}},
 {"data":{"values":[{}]},"mark":{"type":"rule","color":"black","strokeWidth":1.3},"encoding":{"x":{"datum":4},"y":{"datum":3820},"y2":{"datum":3510}}},
 {"data":{"values":[{}]},"mark":{"type":"text","text":"P=0.149","font":"Liberation Serif","fontSize":12.5,"baseline":"alphabetic","dy":-2},"encoding":{"x":{"datum":2.5},"y":{"datum":3820}}},
 {"data":{"values":[{}]},"mark":{"type":"text","text":"Stage","font":"Liberation Serif","fontWeight":"bold","fontSize":17.5,"baseline":"alphabetic"},"encoding":{"x":{"datum":2.485},"y":{"datum":4761}}},
 {"data":{"values":[{}]},"mark":{"type":"text","text":"E","font":"Liberation Sans","fontWeight":"bold","fontSize":24,"align":"left","baseline":"alphabetic"},"encoding":{"x":{"datum":-1.12},"y":{"datum":4878}}}
]},
{"width":205,"height":205,"layer":[
 {"transform":[{"filter":"datum.score=='i' && datum.grp=='t'"}],"mark":{"type":"circle","size":10,"opacity":1},"encoding":{
  "x":{"field":"xp","type":"quantitative","scale":{"domain":[0.32,4.65],"nice":false,"zero":false},"axis":{"values":[1,2,3,4],"labelExpr":"'T' + datum.value"}},
  "y":{"field":"val","type":"quantitative","scale":{"domain":[-2000,4000],"nice":false},"axis":{"values":[-2000,-1000,0,1000,2000,3000,4000],"title":"Immune Score"}},
  "color":{"field":"gx","type":"nominal","scale":{"domain":[1,2,3,4],"range":["#0000FF","#FF0000","#00BB00","#9900DD"]},"legend":null}}},
 {"transform":[{"filter":"datum.score=='i' && datum.grp=='t'"},{"aggregate":[{"op":"median","field":"val","as":"med"}],"groupby":["gx"]}],"mark":{"type":"tick","orient":"horizontal","thickness":3,"size":32,"opacity":1},"encoding":{"x":{"field":"gx","type":"quantitative"},"y":{"field":"med","type":"quantitative"},"color":{"field":"gx","type":"nominal","legend":null}}},
 {"data":{"values":[{}]},"mark":{"type":"rule","color":"black","strokeWidth":1.3},"encoding":{"x":{"datum":1},"x2":{"datum":4},"y":{"datum":3800}}},
 {"data":{"values":[{}]},"mark":{"type":"rule","color":"black","strokeWidth":1.3},"encoding":{"x":{"datum":1},"y":{"datum":3800},"y2":{"datum":3490}}},
 {"data":{"values":[{}]},"mark":{"type":"rule","color":"black","strokeWidth":1.3},"encoding":{"x":{"datum":4},"y":{"datum":3800},"y2":{"datum":3490}}},
 {"data":{"values":[{}]},"mark":{"type":"text","text":"P=0.033","font":"Liberation Sans","fontSize":12,"baseline":"alphabetic","dy":-2},"encoding":{"x":{"datum":2.5},"y":{"datum":3800}}},
 {"data":{"values":[{}]},"mark":{"type":"text","text":"T classification","font":"Liberation Serif","fontWeight":"bold","fontSize":17.5,"baseline":"alphabetic"},"encoding":{"x":{"datum":2.485},"y":{"datum":4761}}},
 {"data":{"values":[{}]},"mark":{"type":"text","text":"F","font":"Liberation Sans","fontWeight":"bold","fontSize":24,"align":"left","baseline":"alphabetic"},"encoding":{"x":{"datum":-1.26},"y":{"datum":4878}}}
]},
{"width":205,"height":205,"layer":[
 {"transform":[{"filter":"datum.score=='i' && datum.grp=='n'"}],"mark":{"type":"circle","size":10,"opacity":1},"encoding":{
  "x":{"field":"xp","type":"quantitative","scale":{"domain":[0.32,2.65],"nice":false,"zero":false},"axis":{"values":[1,2],"labelExpr":"'N' + (datum.value - 1)"}},
  "y":{"field":"val","type":"quantitative","scale":{"domain":[-2000,4000],"nice":false},"axis":{"values":[-2000,-1000,0,1000,2000,3000,4000],"title":"Immune Score"}},
  "color":{"field":"gx","type":"nominal","scale":{"domain":[1,2,3,4],"range":["#0000FF","#FF0000","#00BB00","#9900DD"]},"legend":null}}},
 {"transform":[{"filter":"datum.score=='i' && datum.grp=='n'"},{"aggregate":[{"op":"median","field":"val","as":"med"}],"groupby":["gx"]}],"mark":{"type":"tick","orient":"horizontal","thickness":3,"size":57,"opacity":1},"encoding":{"x":{"field":"gx","type":"quantitative"},"y":{"field":"med","type":"quantitative"},"color":{"field":"gx","type":"nominal","legend":null}}},
 {"data":{"values":[{}]},"mark":{"type":"rule","color":"black","strokeWidth":1.3},"encoding":{"x":{"datum":1},"x2":{"datum":2},"y":{"datum":3800}}},
 {"data":{"values":[{}]},"mark":{"type":"rule","color":"black","strokeWidth":1.3},"encoding":{"x":{"datum":1},"y":{"datum":3800},"y2":{"datum":3490}}},
 {"data":{"values":[{}]},"mark":{"type":"rule","color":"black","strokeWidth":1.3},"encoding":{"x":{"datum":2},"y":{"datum":3800},"y2":{"datum":3490}}},
 {"data":{"values":[{}]},"mark":{"type":"text","text":"P=0.429","font":"Liberation Sans","fontSize":12,"baseline":"alphabetic","dy":-2},"encoding":{"x":{"datum":1.5},"y":{"datum":3800}}},
 {"data":{"values":[{}]},"mark":{"type":"text","text":"N classification","font":"Liberation Serif","fontWeight":"bold","fontSize":17.5,"baseline":"alphabetic"},"encoding":{"x":{"datum":1.485},"y":{"datum":4761}}},
 {"data":{"values":[{}]},"mark":{"type":"text","text":"G","font":"Liberation Sans","fontWeight":"bold","fontSize":24,"align":"left","baseline":"alphabetic"},"encoding":{"x":{"datum":-0.48},"y":{"datum":4878}}}
]},
{"width":205,"height":205,"layer":[
 {"transform":[{"filter":"datum.score=='i' && datum.grp=='m'"}],"mark":{"type":"circle","size":10,"opacity":1},"encoding":{
  "x":{"field":"xp","type":"quantitative","scale":{"domain":[0.32,2.65],"nice":false,"zero":false},"axis":{"values":[1,2],"labelExpr":"'M' + (datum.value - 1)"}},
  "y":{"field":"val","type":"quantitative","scale":{"domain":[-2000,4000],"nice":false},"axis":{"values":[-2000,-1000,0,1000,2000,3000,4000],"title":"Immune Score"}},
  "color":{"field":"gx","type":"nominal","scale":{"domain":[1,2,3,4],"range":["#0000FF","#FF0000","#00BB00","#9900DD"]},"legend":null}}},
 {"transform":[{"filter":"datum.score=='i' && datum.grp=='m'"},{"aggregate":[{"op":"median","field":"val","as":"med"}],"groupby":["gx"]}],"mark":{"type":"tick","orient":"horizontal","thickness":3,"size":57,"opacity":1},"encoding":{"x":{"field":"gx","type":"quantitative"},"y":{"field":"med","type":"quantitative"},"color":{"field":"gx","type":"nominal","legend":null}}},
 {"data":{"values":[{}]},"mark":{"type":"rule","color":"black","strokeWidth":1.3},"encoding":{"x":{"datum":1},"x2":{"datum":2},"y":{"datum":3775}}},
 {"data":{"values":[{}]},"mark":{"type":"rule","color":"black","strokeWidth":1.3},"encoding":{"x":{"datum":1},"y":{"datum":3775},"y2":{"datum":3490}}},
 {"data":{"values":[{}]},"mark":{"type":"rule","color":"black","strokeWidth":1.3},"encoding":{"x":{"datum":2},"y":{"datum":3775},"y2":{"datum":3490}}},
 {"data":{"values":[{}]},"mark":{"type":"text","text":"P=0.850","font":"Liberation Sans","fontSize":12,"baseline":"alphabetic","dy":-2},"encoding":{"x":{"datum":1.5},"y":{"datum":3775}}},
 {"data":{"values":[{}]},"mark":{"type":"text","text":"M classification","font":"Liberation Serif","fontWeight":"bold","fontSize":17.5,"baseline":"alphabetic"},"encoding":{"x":{"datum":1.485},"y":{"datum":4761}}},
 {"data":{"values":[{}]},"mark":{"type":"text","text":"H","font":"Liberation Sans","fontWeight":"bold","fontSize":24,"align":"left","baseline":"alphabetic"},"encoding":{"x":{"datum":-0.61},"y":{"datum":4878}}}
]},
{"width":205,"height":205,"layer":[
 {"transform":[{"filter":"datum.score=='e' && datum.grp=='st'"}],"mark":{"type":"circle","size":10,"opacity":1},"encoding":{
  "x":{"field":"xp","type":"quantitative","scale":{"domain":[0.32,4.65],"nice":false,"zero":false},"axis":{"values":[1,2,3,4],"labelExpr":"['','Stage I','Stage II','Stage III','Stage IV'][datum.value]"}},
  "y":{"field":"val","type":"quantitative","scale":{"domain":[-4000,4000],"nice":false},"axis":{"values":[-4000,-2000,0,2000,4000],"title":"Estimate Score"}},
  "color":{"field":"gx","type":"nominal","scale":{"domain":[1,2,3,4],"range":["#0000FF","#FF0000","#00BB00","#9900DD"]},"legend":null}}},
 {"transform":[{"filter":"datum.score=='e' && datum.grp=='st'"},{"aggregate":[{"op":"median","field":"val","as":"med"}],"groupby":["gx"]}],"mark":{"type":"tick","orient":"horizontal","thickness":3,"size":32,"opacity":1},"encoding":{"x":{"field":"gx","type":"quantitative"},"y":{"field":"med","type":"quantitative"},"color":{"field":"gx","type":"nominal","legend":null}}},
 {"data":{"values":[{}]},"mark":{"type":"rule","color":"black","strokeWidth":1.3},"encoding":{"x":{"datum":1},"x2":{"datum":4},"y":{"datum":3780}}},
 {"data":{"values":[{}]},"mark":{"type":"rule","color":"black","strokeWidth":1.3},"encoding":{"x":{"datum":1},"y":{"datum":3780},"y2":{"datum":3380}}},
 {"data":{"values":[{}]},"mark":{"type":"rule","color":"black","strokeWidth":1.3},"encoding":{"x":{"datum":4},"y":{"datum":3780},"y2":{"datum":3380}}},
 {"data":{"values":[{}]},"mark":{"type":"text","text":"P=0.163","font":"Liberation Sans","fontSize":12,"baseline":"alphabetic","dy":-2},"encoding":{"x":{"datum":2.5},"y":{"datum":3780}}},
 {"data":{"values":[{}]},"mark":{"type":"text","text":"Stage","font":"Liberation Serif","fontWeight":"bold","fontSize":17.5,"baseline":"alphabetic"},"encoding":{"x":{"datum":2.485},"y":{"datum":5015}}},
 {"data":{"values":[{}]},"mark":{"type":"text","text":"I","font":"Liberation Sans","fontWeight":"bold","fontSize":24,"align":"left","baseline":"alphabetic"},"encoding":{"x":{"datum":-1.12},"y":{"datum":4897}}}
]},
{"width":205,"height":205,"layer":[
 {"transform":[{"filter":"datum.score=='e' && datum.grp=='t'"}],"mark":{"type":"circle","size":10,"opacity":1},"encoding":{
  "x":{"field":"xp","type":"quantitative","scale":{"domain":[0.32,4.65],"nice":false,"zero":false},"axis":{"values":[1,2,3,4],"labelExpr":"'T' + datum.value"}},
  "y":{"field":"val","type":"quantitative","scale":{"domain":[-4000,4000],"nice":false},"axis":{"values":[-4000,-2000,0,2000,4000],"title":"Estimate Score"}},
  "color":{"field":"gx","type":"nominal","scale":{"domain":[1,2,3,4],"range":["#0000FF","#FF0000","#00BB00","#9900DD"]},"legend":null}}},
 {"transform":[{"filter":"datum.score=='e' && datum.grp=='t'"},{"aggregate":[{"op":"median","field":"val","as":"med"}],"groupby":["gx"]}],"mark":{"type":"tick","orient":"horizontal","thickness":3,"size":32,"opacity":1},"encoding":{"x":{"field":"gx","type":"quantitative"},"y":{"field":"med","type":"quantitative"},"color":{"field":"gx","type":"nominal","legend":null}}},
 {"data":{"values":[{}]},"mark":{"type":"rule","color":"black","strokeWidth":1.3},"encoding":{"x":{"datum":1},"x2":{"datum":4},"y":{"datum":3780}}},
 {"data":{"values":[{}]},"mark":{"type":"rule","color":"black","strokeWidth":1.3},"encoding":{"x":{"datum":1},"y":{"datum":3780},"y2":{"datum":3380}}},
 {"data":{"values":[{}]},"mark":{"type":"rule","color":"black","strokeWidth":1.3},"encoding":{"x":{"datum":4},"y":{"datum":3780},"y2":{"datum":3380}}},
 {"data":{"values":[{}]},"mark":{"type":"text","text":"P=0.048","font":"Liberation Sans","fontSize":12,"baseline":"alphabetic","dy":-2},"encoding":{"x":{"datum":2.5},"y":{"datum":3780}}},
 {"data":{"values":[{}]},"mark":{"type":"text","text":"T classification","font":"Liberation Serif","fontWeight":"bold","fontSize":17.5,"baseline":"alphabetic"},"encoding":{"x":{"datum":2.485},"y":{"datum":5015}}},
 {"data":{"values":[{}]},"mark":{"type":"text","text":"J","font":"Liberation Sans","fontWeight":"bold","fontSize":24,"align":"left","baseline":"alphabetic"},"encoding":{"x":{"datum":-1.26},"y":{"datum":4897}}}
]},
{"width":205,"height":205,"layer":[
 {"transform":[{"filter":"datum.score=='e' && datum.grp=='n'"}],"mark":{"type":"circle","size":10,"opacity":1},"encoding":{
  "x":{"field":"xp","type":"quantitative","scale":{"domain":[0.32,2.65],"nice":false,"zero":false},"axis":{"values":[1,2],"labelExpr":"'N' + (datum.value - 1)"}},
  "y":{"field":"val","type":"quantitative","scale":{"domain":[-4000,4000],"nice":false},"axis":{"values":[-4000,-2000,0,2000,4000],"title":"Estimate Score"}},
  "color":{"field":"gx","type":"nominal","scale":{"domain":[1,2,3,4],"range":["#0000FF","#FF0000","#00BB00","#9900DD"]},"legend":null}}},
 {"transform":[{"filter":"datum.score=='e' && datum.grp=='n'"},{"aggregate":[{"op":"median","field":"val","as":"med"}],"groupby":["gx"]}],"mark":{"type":"tick","orient":"horizontal","thickness":3,"size":57,"opacity":1},"encoding":{"x":{"field":"gx","type":"quantitative"},"y":{"field":"med","type":"quantitative"},"color":{"field":"gx","type":"nominal","legend":null}}},
 {"data":{"values":[{}]},"mark":{"type":"rule","color":"black","strokeWidth":1.3},"encoding":{"x":{"datum":1},"x2":{"datum":2},"y":{"datum":4000}}},
 {"data":{"values":[{}]},"mark":{"type":"rule","color":"black","strokeWidth":1.3},"encoding":{"x":{"datum":1},"y":{"datum":4000},"y2":{"datum":3610}}},
 {"data":{"values":[{}]},"mark":{"type":"rule","color":"black","strokeWidth":1.3},"encoding":{"x":{"datum":2},"y":{"datum":4000},"y2":{"datum":3610}}},
 {"data":{"values":[{}]},"mark":{"type":"text","text":"P=0.827","font":"Liberation Sans","fontSize":12,"baseline":"alphabetic","dy":-2},"encoding":{"x":{"datum":1.5},"y":{"datum":4000}}},
 {"data":{"values":[{}]},"mark":{"type":"text","text":"N classification","font":"Liberation Serif","fontWeight":"bold","fontSize":17.5,"baseline":"alphabetic"},"encoding":{"x":{"datum":1.485},"y":{"datum":5015}}},
 {"data":{"values":[{}]},"mark":{"type":"text","text":"K","font":"Liberation Sans","fontWeight":"bold","fontSize":24,"align":"left","baseline":"alphabetic"},"encoding":{"x":{"datum":-0.48},"y":{"datum":4897}}}
]},
{"width":205,"height":205,"layer":[
 {"transform":[{"filter":"datum.score=='e' && datum.grp=='m'"}],"mark":{"type":"circle","size":10,"opacity":1},"encoding":{
  "x":{"field":"xp","type":"quantitative","scale":{"domain":[0.32,2.65],"nice":false,"zero":false},"axis":{"values":[1,2],"labelExpr":"'M' + (datum.value - 1)"}},
  "y":{"field":"val","type":"quantitative","scale":{"domain":[-4000,4000],"nice":false},"axis":{"values":[-4000,-2000,0,2000,4000],"title":"Estimate Score"}},
  "color":{"field":"gx","type":"nominal","scale":{"domain":[1,2,3,4],"range":["#0000FF","#FF0000","#00BB00","#9900DD"]},"legend":null}}},
 {"transform":[{"filter":"datum.score=='e' && datum.grp=='m'"},{"aggregate":[{"op":"median","field":"val","as":"med"}],"groupby":["gx"]}],"mark":{"type":"tick","orient":"horizontal","thickness":3,"size":57,"opacity":1},"encoding":{"x":{"field":"gx","type":"quantitative"},"y":{"field":"med","type":"quantitative"},"color":{"field":"gx","type":"nominal","legend":null}}},
 {"data":{"values":[{}]},"mark":{"type":"rule","color":"black","strokeWidth":1.3},"encoding":{"x":{"datum":1},"x2":{"datum":2},"y":{"datum":4000}}},
 {"data":{"values":[{}]},"mark":{"type":"rule","color":"black","strokeWidth":1.3},"encoding":{"x":{"datum":1},"y":{"datum":4000},"y2":{"datum":3610}}},
 {"data":{"values":[{}]},"mark":{"type":"rule","color":"black","strokeWidth":1.3},"encoding":{"x":{"datum":2},"y":{"datum":4000},"y2":{"datum":3610}}},
 {"data":{"values":[{}]},"mark":{"type":"text","text":"P=0.840","font":"Liberation Sans","fontSize":12,"baseline":"alphabetic","dy":-2},"encoding":{"x":{"datum":1.5},"y":{"datum":4000}}},
 {"data":{"values":[{}]},"mark":{"type":"text","text":"M classification","font":"Liberation Serif","fontWeight":"bold","fontSize":17.5,"baseline":"alphabetic"},"encoding":{"x":{"datum":1.485},"y":{"datum":5015}}},
 {"data":{"values":[{}]},"mark":{"type":"text","text":"L","font":"Liberation Sans","fontWeight":"bold","fontSize":24,"align":"left","baseline":"alphabetic"},"encoding":{"x":{"datum":-0.61},"y":{"datum":4897}}}
]}
]
}
